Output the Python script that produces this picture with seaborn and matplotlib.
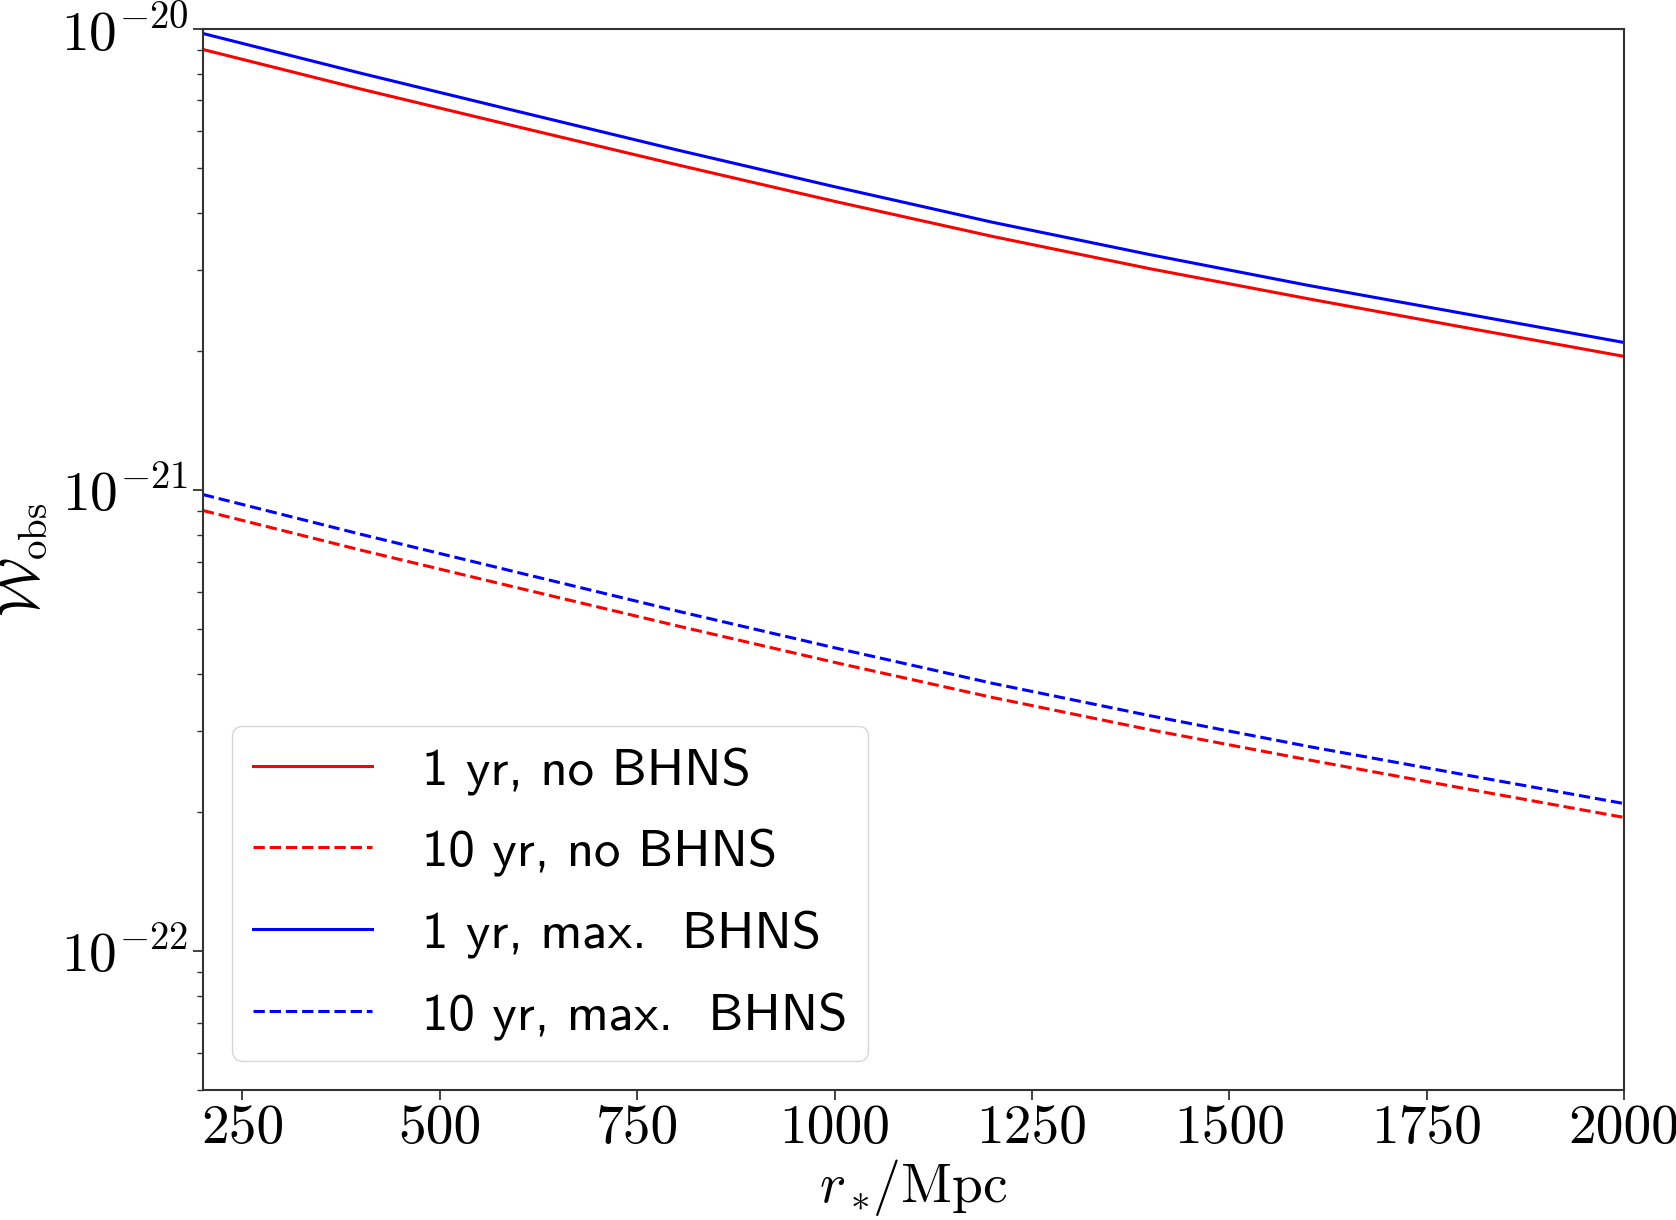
import numpy as np
import pandas as pd
import seaborn as sns
import matplotlib
matplotlib.use("Agg")
import matplotlib.pyplot as plt
from matplotlib.ticker import FuncFormatter, LogLocator

# distances (Mpc)
r_mpc = [200, 400, 600, 800, 1000, 1200, 1400, 1600, 1800, 2000]

# W_obs
w_1yr_no = [9.03e-21, 7.41e-21, 6.13e-21, 5.08e-21, 4.23e-21,
            3.55e-21, 3.02e-21, 2.60e-21, 2.25e-21, 1.95e-21]
w_10yr_no = [9.03e-22, 7.41e-22, 6.13e-22, 5.08e-22, 4.23e-22,
             3.55e-22, 3.02e-22, 2.60e-22, 2.25e-22, 1.95e-22]
w_1yr_max = [9.78e-21, 8.02e-21, 6.62e-21, 5.47e-21, 4.55e-21,
             3.81e-21, 3.24e-21, 2.78e-21, 2.41e-21, 2.09e-21]
w_10yr_max = [9.78e-22, 8.02e-22, 6.62e-22, 5.47e-22, 4.55e-22,
              3.81e-22, 3.24e-22, 2.78e-22, 2.41e-22, 2.09e-22]

labels = ["1 yr, no BHNS", "10 yr, no BHNS", "1 yr, max.  BHNS", "10 yr, max.  BHNS"]
colors = ["red", "red", "blue", "blue"]
styles = ["-", "--", "-", "--"]

plt.rcParams['mathtext.fontset'] = 'cm'
plt.rcParams['axes.unicode_minus'] = False

fig = plt.figure(figsize=(16.76, 12.2), dpi=100)
ax = fig.add_axes([0.1211, 0.1066, 0.9690 - 0.1211, 0.9762 - 0.1066])

for vals, lab, col, ls in zip([w_1yr_no, w_10yr_no, w_1yr_max, w_10yr_max], labels, colors, styles):
    df = pd.DataFrame({'r': r_mpc, 'w': vals})
    sns.lineplot(data=df, x='r', y='w', color=col, linestyle=ls, linewidth=2.2, label=lab, ax=ax)

ax.set_yscale('log')
ax.set_xlim(200, 2000)
ax.set_ylim(5e-23, 1e-20)
ax.set_xticks([250, 500, 750, 1000, 1250, 1500, 1750, 2000])
ax.yaxis.set_major_locator(LogLocator(base=10))
ax.yaxis.set_minor_locator(LogLocator(base=10, subs=np.arange(2, 10)))
ax.yaxis.set_major_formatter(FuncFormatter(lambda v, p: r'$\mathrm{10}^{\mathrm{%d}}$' % int(round(np.log10(v)))))
ax.yaxis.set_minor_formatter(FuncFormatter(lambda v, p: ''))

for lab in ax.get_xticklabels():
    lab.set_fontfamily('cmr10')
ax.tick_params(axis='both', which='major', labelsize=40, length=7, width=1.3, color='#333333')
ax.tick_params(axis='y', which='minor', length=4, width=1.0, color='#333333')
for sp in ax.spines.values():
    sp.set_color('#333333')
    sp.set_linewidth(1.5)

ax.set_xlabel(r'$r_*\!/\mathrm{Mpc}$', fontsize=40, labelpad=2)
ax.set_ylabel(r'$\mathcal{W}_{\mathrm{obs}}$', fontsize=40, labelpad=8)

leg = ax.legend(loc='lower left', prop={'family': 'cmss10', 'size': 38},
                borderaxespad=0.55, handlelength=2.25, handletextpad=0.95,
                labelspacing=0.64)

fig.savefig('out.png', dpi=100)
